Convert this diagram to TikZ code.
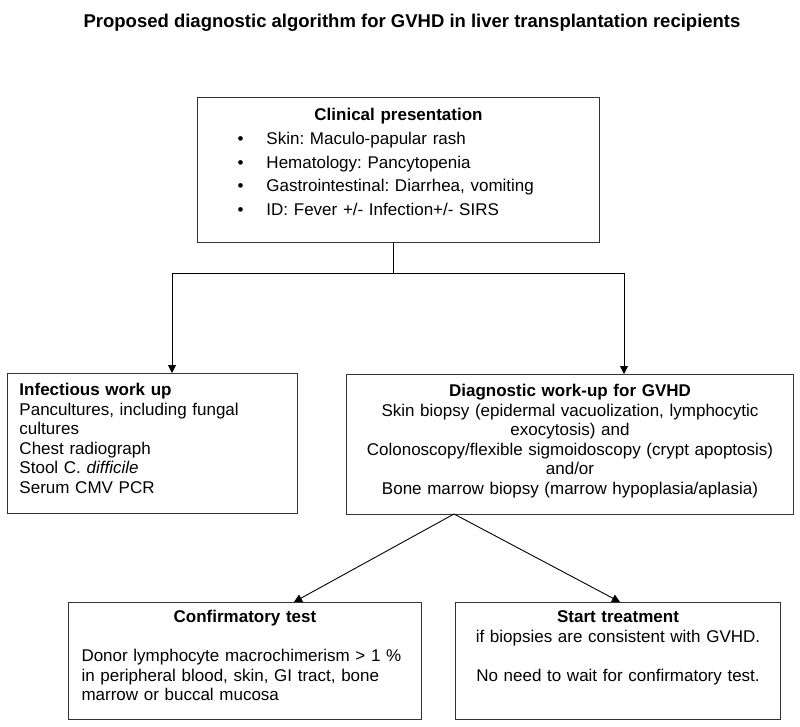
\documentclass[tikz,border=0pt]{standalone}
\usepackage{fontspec}
\setmainfont{Liberation Sans}
\usepackage{tikz}
\usetikzlibrary{arrows.meta,positioning}
\frenchspacing

\tikzset{
  box/.style={draw=black!80, line width=1pt, anchor=north west, inner xsep=12pt, inner ysep=0pt,
    align=left, font=\fontsize{17}{19.6}\selectfont},
  arr/.style={-{Triangle[width=8pt,length=8pt]}, line width=0.9pt},
}
\newcommand{\itm}[1]{\hspace*{28pt}\makebox[29pt][l]{\textbullet}#1}

\begin{document}
\begin{tikzpicture}[x=1pt,y=-1pt]
\useasboundingbox (0,0) rectangle (800,727);
\node[anchor=base, font=\fontsize{18.5}{20}\selectfont\bfseries] (ttl) at (412,28)
  {Proposed diagnostic algorithm for GVHD in liver transplantation recipients};
%----------------------------------
\node[box, text width=378pt, text height=23pt, text depth=122pt,
  font=\fontsize{17}{23.8}\selectfont] (cp) at (197,97)
  {\makebox[\linewidth]{\bfseries Clinical presentation}\\
   \itm{Skin: Maculo-papular rash}\\
   \itm{Hematology: Pancytopenia}\\
   \itm{Gastrointestinal: Diarrhea, vomiting}\\
   \itm{ID: Fever +/- Infection+/- SIRS}};
%----------------------------------
\node[box, text width=266pt, text height=22pt, text depth=118pt] (iw) at (7,373)
  {\textbf{Infectious work up}\\
   Pancultures, including fungal\\
   cultures\\
   Chest radiograph\\
   Stool C. \textit{difficile}\\
   Serum CMV PCR};
\node[box, align=center, text width=423pt, text height=22pt, text depth=118pt,
  below right=1pt and 48pt of iw.north east] (dw)
  {\textbf{Diagnostic work-up for GVHD}\\
   Skin biopsy (epidermal vacuolization, lymphocytic\\
   exocytosis) and\\
   Colonoscopy/flexible sigmoidoscopy (crypt apoptosis)\\
   and/or\\
   Bone marrow biopsy (marrow hypoplasia/aplasia)};
%----------------------------------
\node[box, inner xsep=13pt, text width=327pt, text height=20pt, text depth=97pt] (ct) at (68,602)
  {\makebox[\linewidth]{\bfseries Confirmatory test}\\[19.6pt]
   Donor lymphocyte macrochimerism > 1 \%\\
   in peripheral blood, skin, GI tract, bone\\
   marrow or buccal mucosa};
\node[box, align=center, text width=301pt, text height=20pt, text depth=97pt,
  below right=0pt and 33pt of ct.north east] (st)
  {\textbf{Start treatment}\\
   if biopsies are consistent with GVHD.\\[19.6pt]
   No need to wait for confirmatory test.};
%----------------------------------
\coordinate (sp) at (393,273);
\coordinate (a1) at (172,273);
\coordinate (a2) at (624,273);
\coordinate (fk) at (454,514);
\coordinate (t1) at (294,602);
\coordinate (t2) at (620,602);
\draw[line width=0.9pt] (cp.south -| sp) -- (sp);
\draw[arr] (sp) -- (a1) -- (iw.north -| a1);
\draw[arr] (sp) -- (a2) -- (dw.north -| a2);
\draw[arr] (fk) -- (t1);
\draw[arr] (fk) -- (t2);
\end{tikzpicture}
\end{document}
